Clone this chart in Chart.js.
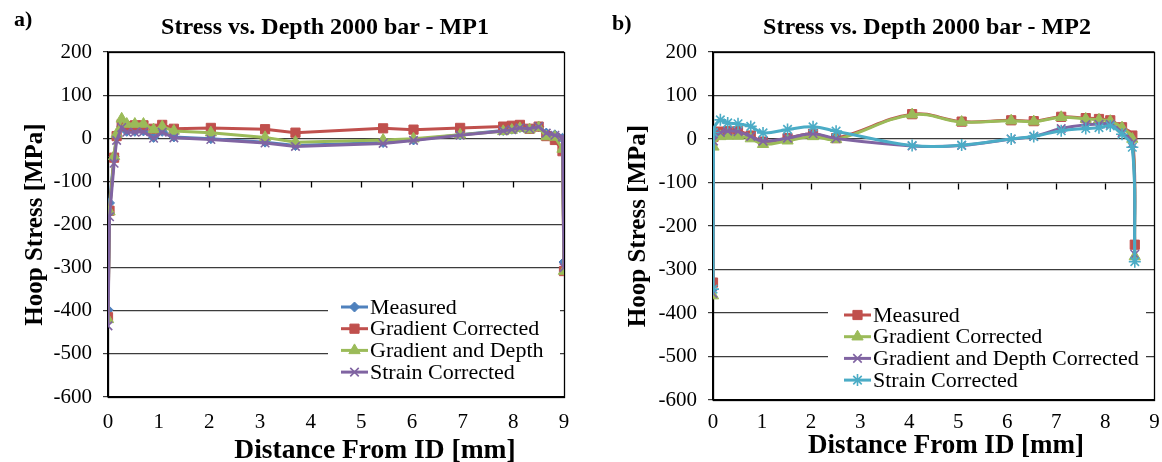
<!DOCTYPE html>
<html><head><meta charset="utf-8">
<script src="https://cdn.jsdelivr.net/npm/chart.js@4.4.0/dist/chart.umd.min.js"></script>
<style>
html,body{margin:0;padding:0;background:#fff;}
#wrap{position:relative;width:1162px;height:462px;overflow:hidden;font-family:"Liberation Serif","Times New Roman",serif;}
.cv{position:absolute;top:0;width:581px;height:462px;}
.lbl{position:absolute;font-weight:bold;white-space:nowrap;color:#000;line-height:1;}
</style></head><body>
<div id="wrap">
 <div class="cv" style="left:0"><canvas id="ca" width="581" height="462"></canvas></div>
 <div class="cv" style="left:581px"><canvas id="cb" width="581" height="462"></canvas></div>
 <div class="lbl" style="left:14px;top:8px;font-size:22px">a)</div>
 <div class="lbl" style="left:612px;top:12px;font-size:22px">b)</div>
 <div class="lbl" id="ta" style="left:325px;top:14px;font-size:24px;transform:translateX(-50%)"></div>
 <div class="lbl" id="tb" style="left:927px;top:14px;font-size:24px;transform:translateX(-50%)"></div>
 <div class="lbl" id="xa" style="left:375px;top:435px;font-size:27.5px;transform:translateX(-50%)"></div>
 <div class="lbl" id="xb" style="left:946px;top:431px;font-size:27px;transform:translateX(-50%)"></div>
</div>
<script>
// ---- Data: panel a (MP1) ----
const distA = [0, 0.03, 0.12, 0.17, 0.27, 0.37, 0.53, 0.7, 0.9, 1.07, 1.3, 2.03, 3.1, 3.7, 5.43, 6.03, 6.95, 7.8, 7.97, 8.13, 8.32, 8.5, 8.65, 8.82, 8.97, 9.0];
const measuredA   = [-398, -150, -42, 2, 28, 16, 16, 17, 2, 16, 3, -1, -9, -17, -10, -4, 8, 18, 21, 25, 22, 27, 12, 8, 0, -287];
const gradA       = [-415, -168, -45, 5, 33, 28, 30, 30, 22, 31, 22, 24, 21, 13, 23, 20, 24, 27, 29, 31, 22, 27, 5, -4, -30, -308];
const gradDepthA  = [-420, -170, -42, 10, 45, 33, 33, 33, 20, 27, 17, 13, 2, -9, -4, -1, 8, 16, 19, 23, 20, 25, 4, 3, -25, -308];
const strainA     = [-435, -182, -58, -5, 25, 14, 14, 15, 0, 14, 1, -3, -11, -19, -12, -5, 7, 17, 20, 24, 22, 27, 12, 7, 3, -300];
const namesA = ['Measured', 'Gradient Corrected', 'Gradient and Depth', 'Strain Corrected'];
const titleA = 'Stress vs. Depth 2000 bar - MP1';

// ---- Data: panel b (MP2) ----
const distB = [0, 0.01, 0.15, 0.3, 0.51, 0.77, 1.02, 1.52, 2.04, 2.51, 4.06, 5.07, 6.08, 6.54, 7.1, 7.6, 7.87, 8.1, 8.34, 8.55, 8.6];
const measuredB  = [-330, 5, 17, 18, 18, 8, -6, 2, 12, 2, 57, 40, 43, 41, 51, 48, 46, 43, 27, 8, -243];
const gradB      = [-360, -18, 6, 7, 7, 1, -12, -4, 6, -1, 56, 39, 42, 40, 50, 46, 44, 41, 26, 0, -270];
const gradDepthB = [-355, -5, 15, 18, 17, 6, -5, 2, 12, 1, -16, -15, 0, 6, 24, 33, 34, 34, 15, -10, -265];
const strainB    = [-345, 15, 44, 37, 35, 29, 14, 22, 28, 18, -15, -14, 0, 6, 19, 24, 26, 30, 11, -19, -282];
const namesB = ['Measured', 'Gradient Corrected', 'Gradient and Depth Corrected', 'Strain Corrected'];
const titleB = 'Stress vs. Depth 2000 bar - MP2';

const xTitle = 'Distance From ID [mm]';
const yTitle = 'Hoop Stress [MPa]';
const xRange = [0, 9], yRange = [-600, 200];

document.getElementById('ta').textContent = titleA;
document.getElementById('tb').textContent = titleB;
document.getElementById('xa').textContent = xTitle;
document.getElementById('xb').textContent = xTitle;

const FONT = "'Liberation Serif','Times New Roman',serif";

const framePlugin = {
  id: 'frame',
  beforeDatasetsDraw(chart, args, o) {
    const {ctx, chartArea: a, scales: {x, y}} = chart;
    ctx.save();
    ctx.strokeStyle = '#000'; ctx.lineWidth = 1.3;
    const yc = Math.round(y.getPixelForValue(o.crossAt)) + 0.5;
    ctx.beginPath();
    for (const t of x.ticks) {
      const px = Math.round(x.getPixelForValue(t.value)) + 0.5;
      if (px <= a.left + 2 || px >= a.right - 2) continue;
      ctx.moveTo(px, yc); ctx.lineTo(px, yc + o.tickLen);
    }
    ctx.stroke();
    ctx.strokeRect(Math.round(a.left) + 0.5, Math.round(a.top) + 0.5, Math.round(a.right - a.left), Math.round(a.bottom - a.top));
    ctx.restore();
  }
};

const legendPlugin = {
  id: 'boxLegend',
  afterDatasetsDraw(chart, args, o) {
    const ctx = chart.ctx;
    ctx.save();
    ctx.fillStyle = '#fff';
    ctx.fillRect(o.boxX, o.boxY, o.boxW, o.boxH);
    ctx.font = o.font; ctx.textBaseline = 'middle'; ctx.textAlign = 'left';
    chart.data.datasets.forEach((ds, i) => {
      const yy = o.y + i * o.rowH;
      ctx.strokeStyle = ds.borderColor; ctx.lineWidth = ds.borderWidth;
      ctx.beginPath(); ctx.moveTo(o.x, yy); ctx.lineTo(o.x + o.lineW, yy); ctx.stroke();
      ctx.fillStyle = ds.pointBackgroundColor; ctx.strokeStyle = ds.pointBorderColor; ctx.lineWidth = ds.pointBorderWidth;
      Chart.helpers.drawPoint(ctx, {pointStyle: ds.pointStyle, radius: ds.pointRadius, borderWidth: ds.pointBorderWidth, rotation: 0}, o.x + o.lineW / 2, yy);
      ctx.fillStyle = '#000';
      ctx.fillText(ds.label, o.x + o.lineW + o.gap, yy + 1);
    });
    ctx.restore();
  }
};

function makeDatasets(dist, series, names, colors, styles, radii, tension) {
  const n = series.length;
  return series.map((vals, i) => ({
    label: names[i],
    data: dist.map((d, k) => ({x: d, y: vals[k]})),
    borderColor: colors[i], backgroundColor: colors[i],
    pointBackgroundColor: colors[i], pointBorderColor: colors[i],
    pointBorderWidth: (styles[i] === 'crossRot' || styles[i] === 'star') ? 1.6 : 1,
    borderWidth: 3, pointStyle: styles[i], pointRadius: radii[i],
    tension: tension, order: n - 1 - i, showLine: true
  }));
}

function makeChart(id, datasets, lay, leg) {
  return new Chart(document.getElementById(id), {
    type: 'scatter',
    data: {datasets},
    plugins: [framePlugin, legendPlugin],
    options: {
      responsive: false, animation: false, events: [],
      layout: {padding: {left: lay.pl, right: lay.pr, top: lay.pt, bottom: 0}},
      plugins: {
        legend: {display: false}, tooltip: {enabled: false},
        frame: {crossAt: -100, tickLen: 6},
        boxLegend: leg
      },
      scales: {
        x: {
          type: 'linear', min: xRange[0], max: xRange[1],
          afterFit: s => { s.height = lay.xh; },
          ticks: {stepSize: 1, font: {family: FONT, size: 21}, color: '#000', padding: 0, maxRotation: 0, autoSkip: false},
          grid: {display: false, drawTicks: true, tickLength: lay.xtp},
          border: {display: true, color: '#000', width: 1.3},
          title: {display: false}
        },
        y: {
          min: yRange[0], max: yRange[1],
          afterFit: s => { s.width = lay.yw; },
          ticks: {stepSize: 100, font: {family: FONT, size: 21}, color: '#000', padding: 11},
          grid: {color: '#3c3c3c', lineWidth: 1.2, tickLength: 5, drawTicks: true},
          border: {display: true, color: '#000', width: 1.3},
          title: {display: true, text: yTitle, color: '#000', font: {family: FONT, size: 25, weight: 'bold'}, padding: {top: 0, bottom: 0}}
        }
      }
    }
  });
}

const colorsA = ['#4F81BD', '#C0504D', '#9BBB59', '#8064A2'];
const stylesA = ['rectRot', 'rect', 'triangle', 'crossRot'];
makeChart('ca',
  makeDatasets(distA, [measuredA, gradA, gradDepthA, strainA], namesA, colorsA, stylesA, [5, 6.5, 6.5, 6], 0),
  {pl: 21, pr: 17, pt: 52, xh: 65, xtp: 13, yw: 87},
  {boxX: 328, boxY: 296, boxW: 232, boxH: 88, x: 341, y: 307, rowH: 21.7, lineW: 27, gap: 2, font: "22px " + FONT});

const colorsB = ['#C0504D', '#9BBB59', '#8064A2', '#4BACC6'];
const stylesB = ['rect', 'triangle', 'crossRot', 'star'];
makeChart('cb',
  makeDatasets(distB, [measuredB, gradB, gradDepthB, strainB], namesB, colorsB, stylesB, [6.5, 6.5, 6, 6], 0.4),
  {pl: 43, pr: 7, pt: 52, xh: 62, xtp: 10, yw: 89},
  {boxX: 247, boxY: 302, boxW: 318, boxH: 92, x: 263, y: 315, rowH: 21.7, lineW: 27, gap: 2, font: "22px " + FONT});
</script>
</body></html>
